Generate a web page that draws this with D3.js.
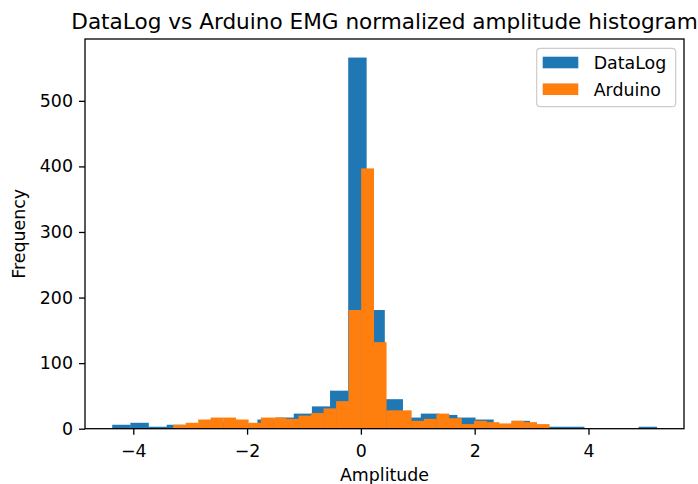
<!DOCTYPE html>
<html>
<head>
<meta charset="utf-8">
<script src="https://cdn.jsdelivr.net/npm/d3@7"></script>
<style>
  body { margin: 0; background: #fff; }
  text { font-family: "DejaVu Sans", sans-serif; fill: #000; }
</style>
</head>
<body>
<div id="viz"></div>
<script>
"use strict";

const seriesNames = ["DataLog", "Arduino"];
const seriesColors = ["#1f77b4", "#ff7f0e"];

// histogram ranges, 30 equal bins each
const dataLogRange = [-4.37, 5.20];
const arduinoRange = [-3.30, 3.31];

const dataLogCounts = [6, 9, 3, 6, 5, 8, 10, 7, 14, 17,
                       23, 34, 58, 566, 181, 45, 17, 23, 21, 17,
                       14, 6, 12, 4, 3, 3, 0, 0, 0, 3];
const arduinoCounts = [6, 9, 14, 17, 17, 14, 9, 17, 17, 15,
                       20, 24, 31, 42, 181, 397, 132, 28, 28, 12,
                       15, 23, 16, 7, 12, 10, 8, 12, 10, 7];

const xTicks = [-4, -2, 0, 2, 4];
const yTicks = [0, 100, 200, 300, 400, 500];

function initChart() {
    let width = 698;
    let height = 484;
    let left = 85, right = 684, top = 39, bottom = 428.7;
    let fs = 17.4;

    function bins(range, counts) {
        let edge = d3.scaleLinear().domain([0, counts.length]).range(range);
        return counts.map((c, i) => ({x0: edge(i), x1: edge(i + 1), n: c}));
    }
    let series = [bins(dataLogRange, dataLogCounts), bins(arduinoRange, arduinoCounts)];

    // matplotlib style 5% margins on x, 5% headroom on y
    let lo = Math.min(dataLogRange[0], arduinoRange[0]);
    let hi = Math.max(dataLogRange[1], arduinoRange[1]);
    let pad = 0.05 * (hi - lo);

    let xScale = d3.scaleLinear()
                   .domain([lo - pad, hi + pad])
                   .range([left, right]);

    let yScale = d3.scaleLinear()
                   .domain([0, 1.05 * d3.max(dataLogCounts.concat(arduinoCounts))])
                   .range([bottom, top]);

    let svg = d3.select('#viz')
                .append('svg')
                .attr('width', width)
                .attr('height', height);

    series.forEach((s, k) => {
        svg.append('g')
           .selectAll('rect')
           .data(s.filter(d => d.n > 0))
           .enter()
           .append('rect')
           .attr('x', d => xScale(d.x0))
           .attr('width', d => xScale(d.x1) - xScale(d.x0) + 0.3)
           .attr('y', d => yScale(d.n))
           .attr('height', d => yScale(0) - yScale(d.n))
           .attr('fill', seriesColors[k]);
    });

    // axes
    let xAxis = d3.axisBottom(xScale).tickValues(xTicks).tickSize(6).tickPadding(9.5);
    let yAxis = d3.axisLeft(yScale).tickValues(yTicks).tickSize(6).tickPadding(6);

    let gx = svg.append('g')
                .attr('transform', `translate(0,${bottom})`)
                .call(xAxis);
    let gy = svg.append('g')
                .attr('transform', `translate(${left},0)`)
                .call(yAxis);

    [gx, gy].forEach(g => {
        g.select('.domain').remove();
        g.selectAll('line').attr('stroke', '#000').attr('stroke-width', 1.3);
        g.selectAll('text')
         .attr('font-size', fs + 'px')
         .attr('font-family', 'DejaVu Sans')
         .attr('fill', '#000');
    });

    // frame
    svg.append('rect')
       .attr('x', left)
       .attr('y', top)
       .attr('width', right - left)
       .attr('height', bottom - top)
       .attr('fill', 'none')
       .attr('stroke', '#000')
       .attr('stroke-width', 1.3);

    svg.append('text')
       .text('DataLog vs Arduino EMG normalized amplitude histogram')
       .attr('x', (left + right) / 2)
       .attr('y', 29)
       .attr('text-anchor', 'middle')
       .attr('font-size', '21.6px');

    svg.append('text')
       .text('Amplitude')
       .attr('x', (left + right) / 2)
       .attr('y', 481)
       .attr('text-anchor', 'middle')
       .attr('font-size', fs + 'px');

    svg.append('text')
       .text('Frequency')
       .attr('transform', `translate(25,${(top + bottom) / 2}) rotate(-90)`)
       .attr('text-anchor', 'middle')
       .attr('font-size', fs + 'px');

    // legend
    let lg = svg.append('g').attr('transform', 'translate(536.7,48.3)');
    lg.append('rect')
      .attr('width', 139)
      .attr('height', 58.4)
      .attr('rx', 3.5)
      .attr('fill', 'rgba(255,255,255,0.8)')
      .attr('stroke', '#cccccc')
      .attr('stroke-width', 1.2);

    seriesNames.forEach((name, k) => {
        let cy = 14.2 + k * 26.7;
        lg.append('rect')
          .attr('x', 6)
          .attr('y', cy - 5.8)
          .attr('width', 35.6)
          .attr('height', 11.6)
          .attr('fill', seriesColors[k]);
        lg.append('text')
          .text(name)
          .attr('x', 57)
          .attr('y', cy + 6.5)
          .attr('font-size', fs + 'px');
    });
}

initChart();
</script>
</body>
</html>
